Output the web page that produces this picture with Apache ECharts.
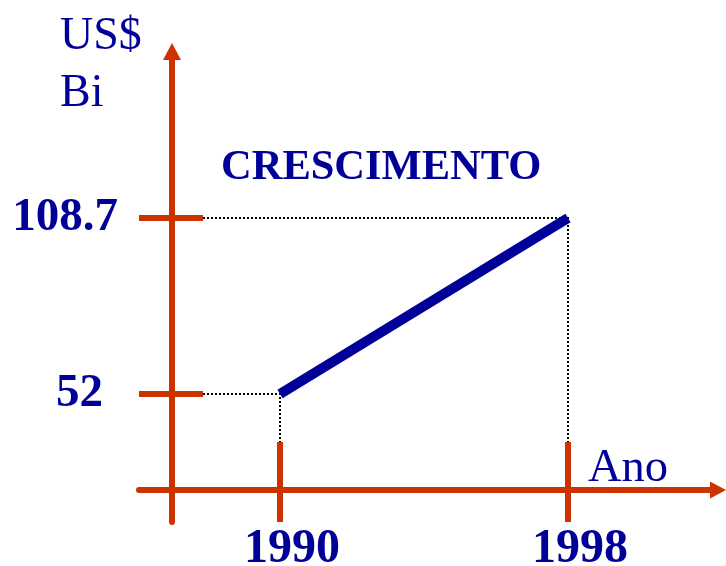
<!DOCTYPE html>
<html><head><meta charset="utf-8">
<script src="https://cdn.jsdelivr.net/npm/echarts@6/dist/echarts.min.js"></script>
<style>html,body{margin:0;padding:0;background:#fff}#c{width:726px;height:566px}</style>
</head><body><div id="c"></div>
<script>
const years = [1990, 1998];
const values = [52, 108.7];
const xTicks = [1990, 1998];
const yTicks = [52, 108.7];
const titleText = 'CRESCIMENTO';
const yNameLines = ['US$', 'Bi'];
const xName = 'Ano';

const AXIS = '#CC3300', BLUE = '#000099';
const FONT = '"Liberation Serif", "Times New Roman", serif';
const X_MIN = 1986.0833, X_MAX = 2002.1667;
const Y_MIN = 10.764, Y_MAX = 162.339;

const chart = echarts.init(document.getElementById('c'), null, {renderer: 'canvas'});

function xAxisDef(inside, len, showLine, showLabel) {
  return {
    type: 'value', min: X_MIN, max: X_MAX, position: 'bottom', offset: -32,
    splitLine: {show: false},
    axisLine: {show: showLine, onZero: false, symbol: ['none', 'triangle'], symbolSize: [17, 16],
      lineStyle: {color: AXIS, width: 6}},
    axisTick: {show: true, inside: inside, length: len, customValues: xTicks,
      lineStyle: {color: AXIS, width: 6}},
    axisLabel: {show: showLabel, customValues: xTicks, margin: 36, padding: [0, 0, 0, 24],
      formatter: v => String(v), color: BLUE, fontFamily: FONT, fontWeight: 'bold', fontSize: 48}
  };
}
function yAxisDef(inside, len, showLine, showLabel) {
  return {
    type: 'value', min: Y_MIN, max: Y_MAX, position: 'left', offset: -33,
    splitLine: {show: false},
    axisLine: {show: showLine, onZero: false, symbol: ['none', 'triangle'], symbolSize: [18, 17],
      lineStyle: {color: AXIS, width: 6}},
    axisTick: {show: true, inside: inside, length: len, customValues: yTicks,
      lineStyle: {color: AXIS, width: 6}},
    axisLabel: {show: showLabel, customValues: yTicks, margin: 54,
      formatter: v => (v === 52 ? '{b|' + v + '}' : '{a|' + v + '}'),
      rich: {
        a: {color: BLUE, fontFamily: FONT, fontWeight: 'bold', fontSize: 47},
        b: {color: BLUE, fontFamily: FONT, fontWeight: 'bold', fontSize: 47, padding: [0, 15, 0, 0]}
      }}
  };
}

chart.setOption({
  animation: false,
  backgroundColor: '#fff',
  grid: {left: 139, right: 8, top: 51.5, bottom: 44, containLabel: false, outerBoundsMode: 'none'},
  xAxis: [xAxisDef(false, 32, true, true), xAxisDef(true, 48, false, false)],
  yAxis: [yAxisDef(false, 33, true, true), yAxisDef(true, 31, false, false)],
  series: [{
    type: 'line', xAxisIndex: 0, yAxisIndex: 0,
    data: years.map((y, i) => [y, values[i]]),
    showSymbol: false, symbol: 'none',
    lineStyle: {color: BLUE, width: 10, cap: 'butt'}
  }]
});

// dotted guide lines from ticks to points
const axisPt = chart.convertToPixel({xAxisIndex: 0, yAxisIndex: 0}, [X_MIN, Y_MIN]);
const yAxisX = axisPt[0] + 33, xAxisY = axisPt[1] - 32;
const guides = years.map((yr, i) => {
  const p = chart.convertToPixel({xAxisIndex: 0, yAxisIndex: 0}, [yr, values[i]]);
  return {
    type: 'polyline', silent: true, z: 1,
    shape: {points: [[yAxisX + 31, p[1]], [p[0], p[1]], [p[0], xAxisY - 48]]},
    style: {stroke: '#000', lineWidth: 2, lineDash: [2, 2], fill: null}
  };
});
chart.setOption({
  graphic: guides.concat([
    {type: 'text', x: 221, y: 168, style: {text: titleText, fill: BLUE, font: 'bold 42.5px ' + FONT, textVerticalAlign: 'middle'}},
    {type: 'text', x: 60, y: 37, style: {text: yNameLines[0], fill: BLUE, font: '46px ' + FONT, textVerticalAlign: 'middle'}},
    {type: 'text', x: 60, y: 94, style: {text: yNameLines[1], fill: BLUE, font: '46px ' + FONT, textVerticalAlign: 'middle'}},
    {type: 'text', x: 588, y: 469, style: {text: xName, fill: BLUE, font: '46.5px ' + FONT, textVerticalAlign: 'middle'}}
  ])
});
</script></body></html>
